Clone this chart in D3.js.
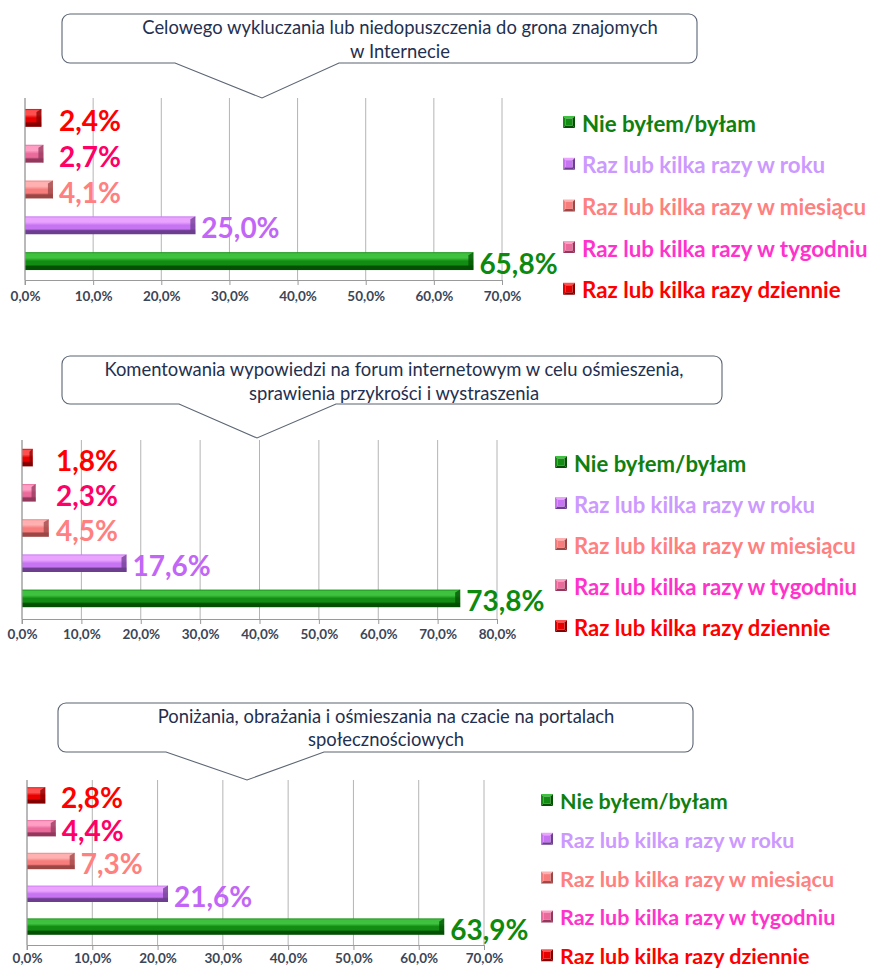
<!DOCTYPE html>
<html>
<head>
<meta charset="utf-8">
<script src="https://cdn.jsdelivr.net/npm/d3@7"></script>
<style>
body { margin: 0; background: #fff; }
svg { display: block; font-family: Lato, "Open Sans", sans-serif; }
</style>
</head>
<body>
<svg id="chart" width="870" height="969"></svg>
<script>
"use strict";

// == DATA ==
var categories = ["Nie byłem/byłam", "Raz lub kilka razy w roku", "Raz lub kilka razy w miesiącu",
	"Raz lub kilka razy w tygodniu", "Raz lub kilka razy dziennie"];

var values1 = [65.8, 25.0, 4.1, 2.7, 2.4];
var values2 = [73.8, 17.6, 4.5, 2.3, 1.8];
var values3 = [63.9, 21.6, 7.3, 4.4, 2.8];

var title1 = ["Celowego wykluczania lub niedopuszczenia do grona znajomych", "w Internecie"];
var title2 = ["Komentowania wypowiedzi na forum internetowym w celu ośmieszenia,", "sprawienia przykrości i wystraszenia"];
var title3 = ["Poniżania, obrażania i ośmieszania na czacie na portalach", "społecznościowych"];

var ticks1 = [0, 10, 20, 30, 40, 50, 60, 70];
var ticks2 = [0, 10, 20, 30, 40, 50, 60, 70, 80];
var ticks3 = [0, 10, 20, 30, 40, 50, 60, 70];

// colours per category (same order as categories)
var barBase  = ["#128c12", "#c774f2", "#f77c7c", "#ea6a9c", "#e80000"];
var barLight = ["#3fc23f", "#eaa4ff", "#ffb0b0", "#ff9fc4", "#ff5050"];
var barDark  = ["#035003", "#6d3e90", "#9c4646", "#93385c", "#840000"];
var labelColor  = ["#0d8a0d", "#c266f7", "#ff8080", "#ff0066", "#ff0000"];
var legendColor = ["#0f800f", "#cc99ff", "#ff8080", "#ff33cc", "#ff0000"];

// == LAYOUT ==
var panels = [
	{ values: values1, title: title1, ticks: ticks1, x0: 25, x1: 502, top: 98, axisY: 280, band: [100, 279], tickY: 11,
		legX: 563, legY: 122, legDy: 41.7, legSize: 22.3,
		box: { x0: 62, x1: 697, y0: 14, y1: 63, pl: 175, pr: 339, ax: 262, ay: 98 }, titleX: 400, titleY: [27, 51] },
	{ values: values2, title: title2, ticks: ticks2, x0: 22, x1: 497, top: 440, axisY: 619, band: [440, 616], tickY: 10,
		legX: 555, legY: 462, legDy: 41, legSize: 22.1,
		box: { x0: 62, x1: 722, y0: 356, y1: 404, pl: 179, pr: 336, ax: 257, ay: 438 }, titleX: 394, titleY: [369, 393] },
	{ values: values3, title: title3, ticks: ticks3, x0: 27, x1: 484, top: 780, axisY: 945, band: [779, 943], tickY: 8,
		legX: 541, legY: 800, legDy: 38.8, legSize: 21.5,
		box: { x0: 58, x1: 693, y0: 703, y1: 752, pl: 166, pr: 324, ax: 247, ay: 780 }, titleX: 386, titleY: [716, 739] }
];

var svg = d3.select("#chart");
var defs = svg.append("defs");

// bar gradients (3D-ish look)
categories.forEach(function (c, i) {
	var g = defs.append("linearGradient").attr("id", "bar" + i)
		.attr("x1", 0).attr("y1", 0).attr("x2", 0).attr("y2", 1);
	[[0, barBase[i]], [0.1, barLight[i]], [0.32, barLight[i]], [0.5, barBase[i]],
		[0.7, barBase[i]], [0.8, barDark[i]], [1, barDark[i]]].forEach(function (s) {
		g.append("stop").attr("offset", s[0]).attr("stop-color", s[1]);
	});
});

var fmt = function (v) { return d3.format(".1f")(v).replace(".", ",") + "%"; };

panels.forEach(function (p) {
	var order = categories.map(function (c, i) { return i; }).reverse(); // dziennie on top
	var x = d3.scaleLinear().domain([0, p.ticks[p.ticks.length - 1]]).range([p.x0, p.x1]);
	var y = d3.scaleBand().domain(order).range(p.band).paddingInner(0.5).paddingOuter(0.25);
	var g = svg.append("g");

	// gridlines
	g.selectAll("line.grid").data(p.ticks).enter().append("line")
		.attr("class", "grid")
		.attr("x1", function (d) { return x(d); }).attr("x2", function (d) { return x(d); })
		.attr("y1", p.top).attr("y2", p.axisY)
		.attr("stroke", "#b4b4b4").attr("stroke-width", 1);

	// x axis
	var axis = g.append("g").attr("transform", "translate(0," + p.axisY + ")")
		.call(d3.axisBottom(x).tickValues(p.ticks).tickSize(5).tickSizeOuter(0).tickFormat(fmt));
	axis.select(".domain").attr("stroke", "#9a9a9a");
	axis.selectAll(".tick line").attr("stroke", "#9a9a9a");
	axis.selectAll(".tick text")
		.attr("y", p.tickY)
		.attr("fill", "#3b4658")
		.style("font-family", "Lato, sans-serif")
		.style("font-weight", "bold")
		.style("font-size", "13.5px");

	// bars
	order.forEach(function (i) {
		var v = p.values[i];
		var by = y(i), bh = y.bandwidth(), bw = x(v) - x(0);
		var cap = Math.min(5, bw * 0.3);
		g.append("rect").attr("x", x(0)).attr("y", by).attr("width", bw).attr("height", bh)
			.attr("fill", "url(#bar" + i + ")");
		g.append("rect").attr("x", x(0) + 2).attr("y", by + 1.5).attr("width", Math.max(0, bw - cap - 2)).attr("height", 1.5)
			.attr("fill", barLight[i]).attr("opacity", 0.8);
		g.append("path")
			.attr("d", "M" + (x(v) - cap) + "," + (by + 3) + "L" + x(v) + "," + by + "L" + x(v) + "," + (by + bh) +
				"L" + (x(v) - cap) + "," + (by + bh - 3) + "Z")
			.attr("fill", barDark[i]).attr("opacity", 0.75);

		g.append("text")
			.attr("x", Math.max(x(v) + 6, x(0) + 34))
			.attr("y", by + bh / 2 + 2)
			.attr("dominant-baseline", "central")
			.attr("fill", labelColor[i])
			.style("font-weight", "bold").style("font-size", "28px")
			.text(fmt(v));
	});

	// left axis line
	g.append("line").attr("x1", x(0)).attr("x2", x(0)).attr("y1", p.top).attr("y2", p.axisY + 5)
		.attr("stroke", "#9a9a9a");

	// legend
	categories.forEach(function (c, i) {
		var ly = p.legY + i * p.legDy, lx = p.legX, s = 12, q = 3.5;
		var cx = lx + s / 2, cy = ly;
		var L = lx, R = lx + s, T = cy - s / 2, B = cy + s / 2;
		var pieces = [
			[[L, T], [R, T], [cx + q, cy - q], [cx - q, cy - q], barLight[i]],
			[[L, T], [cx - q, cy - q], [cx - q, cy + q], [L, B], barBase[i]],
			[[R, T], [R, B], [cx + q, cy + q], [cx + q, cy - q], barDark[i]],
			[[L, B], [cx - q, cy + q], [cx + q, cy + q], [R, B], barDark[i]]
		];
		pieces.forEach(function (pc) {
			g.append("polygon").attr("points", pc.slice(0, 4).map(function (pt) { return pt.join(","); }).join(" "))
				.attr("fill", pc[4]);
		});
		g.append("rect").attr("x", cx - q).attr("y", cy - q).attr("width", 2 * q).attr("height", 2 * q)
			.attr("fill", barBase[i]);
		g.append("text").attr("x", lx + 19).attr("y", ly + 1)
			.attr("dominant-baseline", "central")
			.attr("fill", legendColor[i])
			.style("font-weight", "bold").style("font-size", p.legSize + "px")
			.text(c);
	});

	// callout with title
	var b = p.box, r = 8;
	var d = "M" + (b.x0 + r) + "," + b.y0 + "H" + (b.x1 - r) +
		"A" + r + "," + r + " 0 0 1 " + b.x1 + "," + (b.y0 + r) + "V" + (b.y1 - r) +
		"A" + r + "," + r + " 0 0 1 " + (b.x1 - r) + "," + b.y1 + "H" + b.pr +
		"L" + b.ax + "," + b.ay + "L" + b.pl + "," + b.y1 + "H" + (b.x0 + r) +
		"A" + r + "," + r + " 0 0 1 " + b.x0 + "," + (b.y1 - r) + "V" + (b.y0 + r) +
		"A" + r + "," + r + " 0 0 1 " + (b.x0 + r) + "," + b.y0 + "Z";
	g.append("path").attr("d", d).attr("fill", "#fff").attr("stroke", "#5b6573").attr("stroke-width", 1.1);
	p.title.forEach(function (t, k) {
		g.append("text").attr("x", p.titleX).attr("y", p.titleY[k])
			.attr("text-anchor", "middle").attr("dominant-baseline", "central")
			.attr("fill", "#1f3050")
			.style("font-size", "18.4px")
			.text(t);
	});
});
</script>
</body>
</html>
